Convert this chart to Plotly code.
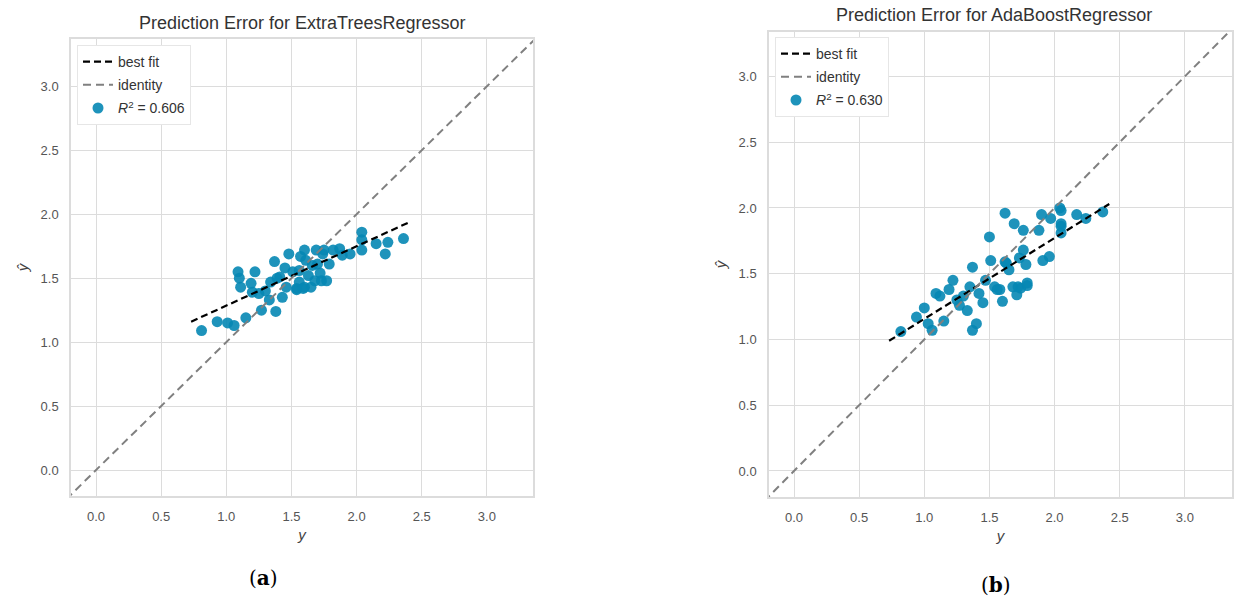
import plotly.graph_objects as go

# ---------------- data ----------------
titles = ["Prediction Error for ExtraTreesRegressor", "Prediction Error for AdaBoostRegressor"]
captions = ["a", "b"]
r2_labels = ["0.606", "0.630"]

et_true = [0.81, 0.93, 1.01, 1.06, 1.15, 1.09, 1.10, 1.11, 1.22, 1.19, 1.20, 1.25, 1.27, 1.33, 1.37,
           1.34, 1.38, 1.41, 1.43, 1.48, 1.51, 1.54, 1.56, 1.60, 1.61, 1.63, 1.65, 1.68, 1.70, 1.72,
           1.75, 1.77, 1.79, 1.87, 1.89, 1.95, 2.04, 2.04, 2.04, 2.15, 2.22, 2.24, 2.36,
           1.39, 1.46, 1.57, 1.56, 1.54, 1.60, 1.82, 1.74, 1.69, 1.73, 1.59, 1.30, 1.45, 1.66]
et_pred = [1.09, 1.16, 1.15, 1.13, 1.19, 1.55, 1.50, 1.43, 1.55, 1.46, 1.39, 1.38, 1.25, 1.33, 1.63,
           1.47, 1.24, 1.51, 1.35, 1.69, 1.55, 1.42, 1.47, 1.72, 1.64, 1.52, 1.43, 1.48, 1.61, 1.54,
           1.72, 1.48, 1.61, 1.73, 1.68, 1.69, 1.86, 1.80, 1.72, 1.77, 1.69, 1.78, 1.81,
           1.50, 1.43, 1.67, 1.56, 1.41, 1.43, 1.72, 1.69, 1.72, 1.48, 1.42, 1.40, 1.58, 1.60]

ada_true = [0.82, 0.94, 1.00, 1.03, 1.06, 1.09, 1.12, 1.15, 1.19, 1.22, 1.27, 1.33, 1.35, 1.37, 1.37,
            1.40, 1.42, 1.45, 1.47, 1.50, 1.51, 1.54, 1.56, 1.60, 1.62, 1.63, 1.65, 1.68, 1.69, 1.71,
            1.73, 1.74, 1.76, 1.76, 1.78, 1.79, 1.88, 1.90, 1.91, 1.96, 1.97, 2.05, 2.05, 2.05, 2.17,
            2.24, 2.37, 2.04, 2.05, 1.62, 1.72, 1.58, 1.79, 1.30, 1.25]
ada_pred = [1.06, 1.17, 1.24, 1.12, 1.07, 1.35, 1.33, 1.14, 1.38, 1.45, 1.26, 1.22, 1.40, 1.55, 1.07,
            1.12, 1.35, 1.28, 1.45, 1.78, 1.60, 1.40, 1.38, 1.29, 1.96, 1.58, 1.53, 1.40, 1.88, 1.34,
            1.62, 1.39, 1.83, 1.68, 1.57, 1.41, 1.83, 1.95, 1.60, 1.63, 1.92, 1.98, 1.88, 1.81, 1.95,
            1.92, 1.97, 2.00, 1.86, 1.59, 1.40, 1.38, 1.43, 1.33, 1.30]

et_fit_x = [0.73, 2.41]
et_fit_y = [1.16, 1.94]
ada_fit_x = [0.73, 2.42]
ada_fit_y = [0.99, 2.03]

identity_vals = [-0.3, 3.5]

tick_vals = [0.0, 0.5, 1.0, 1.5, 2.0, 2.5, 3.0]
tick_text = ["0.0", "0.5", "1.0", "1.5", "2.0", "2.5", "3.0"]

# ---------------- styling ----------------
POINT = "rgba(5,135,180,0.9)"
GRID = "#dcdcdc"
TICKC = "#555555"
FONT = "Liberation Sans, Arial, sans-serif"

fig = go.Figure()

panels = [
    dict(t=et_true, p=et_pred, fx=et_fit_x, fy=et_fit_y, xa="x", ya="y", lg="legend",
         xdom=[71/1234, 533/1234], ydom=[1-496/601, 1-39/601],
         xr=[-0.192, 3.354], yr=[-0.203, 3.37], legpos=(77/1234, 1-45/601)),
    dict(t=ada_true, p=ada_pred, fx=ada_fit_x, fy=ada_fit_y, xa="x2", ya="y2", lg="legend2",
         xdom=[769/1234, 1232/1234], ydom=[1-497/601, 1-32/601],
         xr=[-0.192, 3.362], yr=[-0.198, 3.338], legpos=(775/1234, 1-37/601)),
]

layout_axes = {}
for i, pn in enumerate(panels):
    fig.add_trace(go.Scatter(
        x=pn["t"], y=pn["p"], mode="markers", xaxis=pn["xa"], yaxis=pn["ya"],
        marker=dict(color=POINT, size=11, line=dict(width=0)),
        name="<i>R</i><sup>2</sup> = " + r2_labels[i], legend=pn["lg"], legendrank=3,
        legendgroup="r2" + str(i)))
    fig.add_trace(go.Scatter(
        x=pn["fx"], y=pn["fy"], mode="lines", xaxis=pn["xa"], yaxis=pn["ya"],
        line=dict(color="black", width=2.2, dash="7px,4px"),
        name="best fit", legend=pn["lg"], legendrank=1, legendgroup="bf" + str(i)))
    fig.add_trace(go.Scatter(
        x=identity_vals, y=identity_vals, mode="lines", xaxis=pn["xa"], yaxis=pn["ya"],
        line=dict(color="#808080", width=2, dash="8px,5px"),
        name="identity", legend=pn["lg"], legendrank=2, legendgroup="id" + str(i)))

    suffix = "" if i == 0 else "2"
    common = dict(showgrid=True, gridcolor=GRID, gridwidth=1.3, zeroline=False,
                  showline=True, linecolor=GRID, linewidth=1.5, mirror=True, ticks="",
                  tickvals=tick_vals, ticktext=tick_text, ticklabelstandoff=8,
                  tickfont=dict(family=FONT, size=13, color=TICKC))
    layout_axes["xaxis" + suffix] = dict(common, domain=pn["xdom"], range=pn["xr"],
                                         anchor="y" + suffix,
                                         title=dict(text="<i>y</i>", font=dict(family=FONT, size=15, color="#444"),
                                                    standoff=6))
    layout_axes["yaxis" + suffix] = dict(common, domain=pn["ydom"], range=pn["yr"],
                                         anchor="x" + suffix,
                                         title=dict(text="<i>ŷ</i>", font=dict(family=FONT, size=15, color="#444"),
                                                    standoff=8))
    layout_axes[pn["lg"]] = dict(x=pn["legpos"][0], y=pn["legpos"][1], xanchor="left", yanchor="top",
                                 bgcolor="white", bordercolor="#e6e6e6", borderwidth=1,
                                 font=dict(family=FONT, size=14, color="#333"),
                                 itemwidth=30, tracegroupgap=2)

annotations = [
    dict(text=titles[0], x=302/1234, y=1-23/601, xref="paper", yref="paper", showarrow=False,
         xanchor="center", yanchor="middle", font=dict(family=FONT, size=18, color="#333")),
    dict(text=titles[1], x=994/1234, y=1-15/601, xref="paper", yref="paper", showarrow=False,
         xanchor="center", yanchor="middle", font=dict(family=FONT, size=18, color="#333")),
    dict(text="(<b>" + captions[0] + "</b>)", x=263/1234, y=1-578/601, xref="paper", yref="paper",
         showarrow=False, xanchor="center", yanchor="middle",
         font=dict(family="DejaVu Serif, Liberation Serif, serif", size=20, color="black")),
    dict(text="(<b>" + captions[1] + "</b>)", x=996/1234, y=1-585/601, xref="paper", yref="paper",
         showarrow=False, xanchor="center", yanchor="middle",
         font=dict(family="DejaVu Serif, Liberation Serif, serif", size=20, color="black")),
]

fig.update_layout(
    width=1234, height=601, autosize=False,
    margin=dict(l=0, r=0, t=0, b=0),
    paper_bgcolor="white", plot_bgcolor="white",
    showlegend=True,
    annotations=annotations,
    **layout_axes,
)

fig.write_html("out.html")
